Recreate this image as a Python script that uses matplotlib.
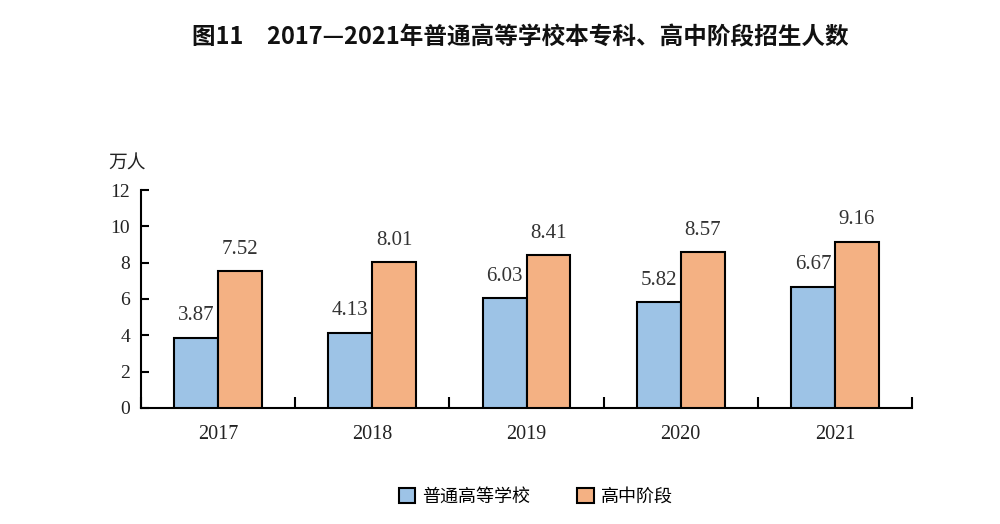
import matplotlib
matplotlib.use("Agg")
import matplotlib.pyplot as plt
import numpy as np
from matplotlib.patches import Patch

plt.rcParams['font.family'] = ['Liberation Serif', 'Noto Sans CJK SC', 'DejaVu Sans']

years = ['2017', '2018', '2019', '2020', '2021']
higher_edu = [3.87, 4.13, 6.03, 5.82, 6.67]
high_school = [7.52, 8.01, 8.41, 8.57, 9.16]
series_names = ['普通高等学校', '高中阶段']
title = '图11　2017—2021年普通高等学校本专科、高中阶段招生人数'
unit = '万人'

c_blue = '#9DC3E6'
c_orange = '#F4B183'

fig = plt.figure(figsize=(10, 5.24), dpi=100)
ax = fig.add_axes([0.141, 0.2214, 0.771, 0.416])

x = np.arange(len(years))
w = 0.285
b1 = ax.bar(x - w/2, higher_edu, w, color=c_blue, edgecolor='black', linewidth=1.5, zorder=3)
b2 = ax.bar(x + w/2, high_school, w, color=c_orange, edgecolor='black', linewidth=1.5, zorder=3)

for bars, vals in ((b1, higher_edu), (b2, high_school)):
    for r, v in zip(bars, vals):
        ax.annotate(f'{v:.2f}', (r.get_x() + r.get_width()/2, v), xytext=(0, 9),
                    textcoords='offset points', ha='center', va='bottom',
                    fontsize=15, color='#333333', family=['Liberation Serif'])

ax.set_xlim(-0.5, len(years) - 0.5)
ax.set_ylim(0, 12)
ax.set_yticks(np.arange(0, 13, 2))
ax.tick_params(axis='y', direction='in', length=6, width=1.5, labelsize=14, pad=8, colors='black')
ax.set_yticklabels([str(t) for t in range(0, 13, 2)], color='#222222')

ax.set_xticks(x)
ax.set_xticklabels(years, fontsize=14.5, color='#222222')
ax.tick_params(axis='x', length=0, pad=12)
ax.set_xticks(np.arange(-0.5, len(years), 1.0), minor=True)
ax.tick_params(axis='x', which='minor', direction='in', length=8, width=1.5)

for s in ['top', 'right']:
    ax.spines[s].set_visible(False)
ax.spines['left'].set_linewidth(1.5)
ax.spines['bottom'].set_linewidth(1.5)

fig.text(0.108, 0.668, unit, fontsize=13.5, family=['Noto Sans CJK SC'], color='#222222', va='bottom')
fig.text(0.52, 0.928, title, fontsize=17, fontweight='bold', family=['Noto Sans CJK SC', 'DejaVu Sans'],
         ha='center', va='center', color='#111111')

handles = [Patch(facecolor=c_blue, edgecolor='black', linewidth=1.5),
           Patch(facecolor=c_orange, edgecolor='black', linewidth=1.5)]
fig.legend(handles, series_names, loc='center', bbox_to_anchor=(0.536, 0.052), ncol=2, frameon=False,
           prop={'family': 'Noto Sans CJK SC', 'size': 13}, handlelength=0.9, handleheight=0.9,
           columnspacing=2.6, handletextpad=0.4)

fig.savefig('out.png', dpi=100)
